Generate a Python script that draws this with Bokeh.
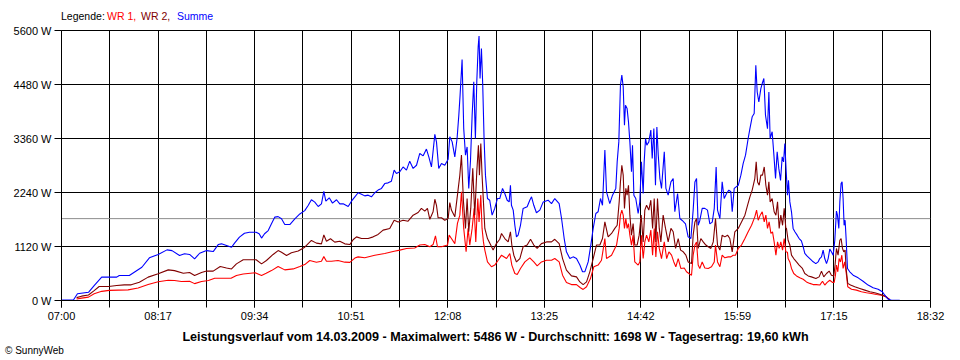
from bokeh.plotting import figure
from bokeh.layouts import column
from bokeh.models import Range1d, FixedTicker, CustomJSTickFormatter, PrintfTickFormatter, Span, Div
from bokeh.embed import file_html
from bokeh.resources import INLINE

# ---------------- data (time = minutes after 07:00, power in W) ----------------
time_labels = ["07:00", "08:17", "09:34", "10:51", "12:08", "13:25", "14:42", "15:59", "17:15", "18:32"]
x_span_min = 692            # 07:00 .. 18:32
y_ticks = [0, 1120, 2240, 3360, 4480, 5600]
average_w = 1698

legend_parts = ["Legende:", "WR 1,", "WR 2,", "Summe"]
caption = ("Leistungsverlauf vom 14.03.2009 - Maximalwert: 5486 W - Durchschnitt: 1698 W - "
           "Tagesertrag: 19,60 kWh")
credit = "\u00a9 SunnyWeb"

wr1_t = [12, 16, 21.5, 26, 32, 38, 53, 61, 69, 77, 85, 90, 95.5, 102, 106, 111.5, 117,
         122, 135, 139.3, 144.7, 154.2, 159.3, 163, 167.2, 172.5, 177.8, 184.5, 189.8, 193.7, 197.7,
         203, 207, 208.9, 211, 215, 220.2, 225.6, 229.6, 233.6, 236.2, 241.5, 249.5, 257.4, 264.9,
         269.4, 274.7, 281.3, 285.3, 289.3, 293.3, 295.9, 297.8, 299.4, 302.6, 307.4, 308.7, 310.5,
         313.2, 315.3, 317.2, 318.5, 320.3, 322.2, 323.8, 325.1, 327, 328.6, 329.9, 331.5, 332.5,
         333.9, 334.9, 336, 337.1, 339.2, 342.4, 345, 347.7, 350.4, 354.4, 357, 358.6, 361, 362.9,
         365.5, 369, 372.9, 376.1, 378.8, 382.2, 386.2, 390.2, 392.8, 396.3, 399, 402.1, 406.1,
         410.1, 413.2, 415.4, 418.1, 421.2, 423.9, 427.3, 430, 432.7, 434, 438, 442, 444.1, 445.1,
         446.2, 447.3, 448.3, 449.4, 450.4, 451.5, 452.6, 453.9, 455.2, 456.5, 459.2, 460.5, 461.8,
         463.2, 464.5, 465.9, 467.7, 469.3, 470.7, 472, 473.3, 474.6, 476, 477.8, 480, 481.9, 483.7,
         485.8, 487.6, 489.2, 491.1, 493.2, 495.9, 497.7, 499.6, 501.7, 503, 504.4, 505.7, 507,
         508.3, 510.2, 512.3, 515, 517.6, 519.8, 520.8, 522.4, 524.3, 526.1, 528.2, 530.9, 533,
         534.9, 536.7, 538.9, 541.5, 544.2, 546.8, 549.5, 552.1, 553.5, 554.8, 556.4, 558, 559.6,
         560.9, 562.2, 563.5, 564.9, 566.2, 567.5, 568.9, 570.2, 571.5, 572.8, 574.2, 575.5, 576.8,
         578.1, 578.6, 580, 581.3, 583.1, 585.3, 587.9, 590.6, 593.2, 595.9, 598.5, 601.2, 603.8,
         606, 607.8, 609.7, 611.8, 613.9, 615.3, 616.3, 617.1, 618.2, 619.2, 620.3, 621.4, 622.4,
         623.7, 625.1, 626.1, 629.1, 633, 637, 641, 645, 649, 653, 656.9, 659.6]
wr1_w = [30, 50, 70, 140, 190, 210, 220, 260, 330, 390, 420, 415, 395, 400, 350, 395, 415,
         460, 460, 520, 550, 575, 520, 565, 620, 705, 635, 655, 705, 745, 830,
         795, 815, 910, 815, 815, 830, 795, 790, 880, 905, 885, 940, 975, 1020,
         1045, 1080, 1090, 1150, 1160, 1115, 1160, 1340, 1115, 1115, 1150, 1355, 1285,
         1180, 1600, 1770, 2255, 1495, 1010, 1495, 1150, 1495, 1910, 1215, 2115, 1630,
         2185, 1495, 1215, 1045, 800, 700, 735, 835, 940, 870, 975, 735, 560, 540,
         665, 800, 885, 800, 720, 800, 835, 835, 870, 800, 525, 375, 330,
         330, 265, 230, 285, 455, 700, 735, 835, 1285, 870, 940, 1150, 1495, 1770,
         1875, 1770, 1495, 1700, 1495, 1595, 1355, 1150, 1355, 800, 735, 800, 1355,
         870, 1215, 1355, 1215, 1460, 940, 1495, 905, 1425, 1080, 870, 1215, 870, 1010,
         940, 800, 700, 870, 665, 675, 595, 560, 525, 940, 1150, 1215, 735,
         665, 800, 675, 665, 700, 800, 1150, 800, 700, 940, 885, 905, 905,
         940, 940, 1080, 1150, 1285, 1425, 1560, 1735, 1875, 1665, 1770, 1840, 1630,
         1770, 1495, 1630, 1390, 1425, 1215, 940, 1215, 1080, 1215, 1045, 1285, 1010,
         1000, 870, 800, 665, 560, 510, 470, 440, 385, 355, 330, 330, 320,
         400, 320, 375, 420, 375, 375, 525, 735, 595, 870, 800, 940, 665,
         800, 525, 285, 235, 215, 180, 160, 145, 125, 110, 75, 15]

wr2_t = [12, 16, 21.5, 26, 30, 37.5, 44, 50, 55.5, 62, 69, 77, 85, 90, 97, 102, 106, 111.5, 115.5,
         120.8, 126.4, 131.4, 135.4, 139.3, 144.7, 155, 159.3, 163.2, 168.5, 172.5, 175.2, 179.2,
         183.1, 188.5, 193.7, 199, 203, 207, 208.9, 211, 214.2, 217.6, 221.6, 225.6, 229.6, 232.2,
         234.9, 238.9, 244.2, 248.2, 252.1, 256.1, 261.4, 264.9, 268.1, 272, 276, 280, 284, 286.6,
         289.3, 291.4, 293.3, 295.9, 297.3, 298.6, 299.9, 302.6, 305.2, 307.9, 309.2, 310.5, 313.2,
         315.3, 317.2, 318.5, 320.1, 321.7, 323, 324.3, 325.9, 327.5, 329.1, 330.7, 332, 332.8,
         333.9, 334.9, 336, 337.1, 339.2, 341.8, 343.7, 346.3, 349, 350.4, 353, 355.7, 357.5, 358.6,
         360.2, 362.3, 365, 367.6, 370.8, 373.5, 376.1, 378.8, 382.2, 386.2, 390.2, 392.8, 396.3,
         399, 402.1, 406.1, 410.1, 412.8, 415.4, 418.1, 420.7, 423.4, 426, 428.7, 430.8, 432.7,
         435.3, 438, 440.6, 442.5, 444.1, 445.1, 446.2, 447.3, 448.3, 449.4, 450.4, 451.5, 452.6,
         453.9, 455.2, 456.5, 458.4, 460, 461.6, 463.2, 464.5, 465.9, 467.7, 469.3, 470.7, 472,
         473.3, 474.6, 476, 477.3, 479.1, 481, 483.1, 485.3, 487.1, 489, 491.1, 493, 495.1, 497.2,
         499, 501.7, 503, 504.4, 505.7, 507, 509.1, 511, 513.1, 515, 517.1, 519, 520.8, 522.4,
         524.3, 526.1, 528.2, 530.4, 532.2, 534.1, 536.2, 538.9, 541.5, 544.2, 546.3, 548.2, 550,
         552.1, 553.2, 554.3, 555.6, 556.9, 558.2, 559.6, 560.9, 562.2, 563.3, 564.3, 565.9, 567.5,
         568.9, 570.2, 571.5, 572.8, 574.2, 575.5, 576.8, 577.3, 578.6, 580, 581.3, 583.1, 585.3,
         587.4, 590, 591.9, 594.6, 597.2, 600.7, 603.3, 605.2, 607, 609.2, 611.3, 613.1, 615, 616,
         617.1, 618.4, 619.8, 620.8, 621.9, 622.9, 624, 624.8, 626.1, 628.3, 631.7, 635.7, 639.7,
         643.7, 647.6, 651.6, 655.6, 658.2, 659.6]
wr2_w = [60, 90, 115, 205, 290, 290, 310, 325, 325, 380, 485, 555, 635, 620, 565, 580, 520, 580, 610,
         610, 705, 675, 655, 760, 845, 845, 760, 830, 955, 1035, 1000, 935,
         990, 1025, 1105, 1245, 1190, 1175, 1360, 1230, 1280, 1210, 1230, 1175, 1160, 1260,
         1320, 1285, 1285, 1320, 1370, 1460, 1495, 1665, 1630, 1665, 1645, 1770, 1825, 1910,
         1855, 1910, 1685, 1840, 2100, 1975, 1715, 1715, 1665, 1700, 2030, 1875, 1735,
         2185, 2600, 3015, 2045, 1495, 2115, 1425, 1910, 2740, 1770, 2670, 3220, 2600,
         3255, 2600, 2045, 1495, 1285, 1150, 1045, 1180, 1270, 1390, 1285, 1215, 1425, 1150,
         940, 800, 870, 1115, 1150, 1270, 1150, 1080, 1180, 1215, 1215, 1270, 1180,
         870, 630, 510, 490, 385, 330, 385, 595, 870, 1150, 1150, 1285, 1630,
         1320, 1390, 1495, 1560, 2045, 2460, 2805, 2600, 1910, 2325, 2185, 2390, 1770,
         1355, 1595, 1150, 1150, 1355, 1770, 1215, 1875, 1975, 1875, 2080, 1495, 2115,
         1215, 2115, 1495, 1215, 1770, 1495, 1215, 1495, 1425, 1080, 1285, 1045, 1010, 940,
         800, 765, 1355, 1630, 1700, 1080, 1285, 1215, 1150, 1115, 1080, 1215, 1700, 1150,
         1045, 1355, 1320, 1355, 1285, 1010, 1425, 1495, 1630, 1770, 1975, 2150, 2290,
         2530, 2875, 2460, 2390, 2600, 2600, 2770, 2390, 2185, 2460, 2045, 2115, 1840,
         1770, 2045, 1495, 1770, 1560, 1910, 1495, 1495, 1250, 1150, 940, 870, 800,
         735, 665, 560, 510, 490, 455, 490, 610, 490, 560, 610, 525, 510, 735,
         1080, 940, 1250, 1285, 1080, 1010, 1045, 665, 355, 320, 285, 250, 215,
         180, 160, 130, 95, 40, 15]

sum_t = [0, 9.5, 12.7, 21.5, 26, 32, 44, 46, 54, 64, 70, 77, 84, 88, 94, 98, 102, 106, 110, 115.5,
         120.8, 124.8, 127.4, 131.4, 135.4, 137.8, 141.7, 145.7, 149.7, 155, 157.4, 159.3, 161.7,
         164.6, 167.2, 169.9, 172.5, 175.2, 177.8, 181.8, 185.8, 189.8, 193.7, 196.4, 199, 201.7,
         204.4, 207, 208.9, 210.5, 213.2, 215.8, 219, 221.6, 224.3, 228.3, 230.9,
         233.6, 236.2, 238.9, 241.5, 244.2, 246.8, 249.5, 252.1, 254.8, 257.4, 260.1, 262.7, 264.9,
         266.7, 269.4, 272, 274.7, 277.3, 280, 282.7, 285.3, 288, 290.6, 292.5, 294.6, 297.3, 298.6,
         300.4, 302.6, 305.2, 307.9, 309.2, 311.1, 313.2, 315, 316.4, 317.4, 319, 320.3, 321.7, 323,
         324.3, 325.7, 327, 328.3, 329.6, 330.7, 331.8, 332.5, 333.3, 334.4, 335.4, 336.5, 337.6,
         339.2, 341, 342.9, 345, 347.1, 349, 351.2, 353, 354.9, 356.5, 357.5, 358.3, 359.7, 361,
         362.3, 363.6, 365.5, 367.6, 370.8, 372.9, 374.3, 376.1, 378.2, 380.9, 383.6, 387.5, 390.2,
         392.8, 396.3, 398.2, 400.3, 402.1, 404.8, 407.4, 410.1, 412.8, 414.9, 416.7, 419.4, 421.5,
         423.4, 425.5, 427.3, 429.2, 430.8, 432.7, 434, 436.6, 438.8, 441.4, 442.5, 443.8, 445.1,
         446.2, 447.3, 448.3, 449.1, 450.4, 451.5, 452.6, 453.9, 454.7, 455.8, 457.3, 459.2, 460.5,
         461.8, 463.2, 464, 465.1, 466.1, 467.7, 469.3, 470.4, 471.7, 473, 474.1, 475.2, 476.5,
         477.8, 480, 481.3, 483.1, 485.3, 487.1, 488.4, 490.6, 492.4, 494.3, 496.9, 499, 501.2, 503,
         504.4, 505.7, 507, 508.3, 510.2, 512.3, 514.4, 516.3, 518.2, 519.8, 521.3, 522.4, 524.3,
         526.1, 527.7, 529.6, 531.4, 533, 534.1, 535.7, 538.9, 541, 542.8, 544.7, 546.8, 548.2, 550,
         551.6, 552.9, 554, 555.3, 556.9, 558, 559.3, 560.6, 562.2, 563.3, 564.3, 565.9, 567.3,
         568.6, 569.9, 571.2, 572.6, 573.9, 575, 576, 577.1, 578.1, 578.9, 580, 581.3, 582.6, 584,
         585.8, 587.4, 589.2, 590.6, 591.9, 593.8, 595.9, 598, 600.7, 602.5, 603.8, 605.2, 606.5,
         607.8, 609.2, 610.5, 611.8, 613.1, 614.5, 615.8, 617.1, 617.9, 619, 619.8, 620.8, 621.6,
         622.4, 623.2, 624, 624.8, 625.9, 627.7, 630.4, 634.4, 638.3, 642.3, 646.3, 650.3, 653.7,
         655.6, 658.2, 660.9, 667.5]
sum_w = [10, 10, 140, 170, 310, 485, 485, 520, 520, 690, 885, 955, 1050, 1035, 935, 970, 955, 865, 980, 1035,
         1015, 1160, 1175, 1140, 1105, 1190, 1315, 1395, 1415, 1415, 1385, 1295, 1385,
         1450, 1590, 1730, 1740, 1695, 1575, 1575, 1695, 1795, 1865, 1970, 2090, 2040,
         1950, 2005, 2265, 2060, 2130, 2020, 2090, 2005, 2005, 1950, 2060,
         2150, 2235, 2205, 2170, 2185, 2150, 2235, 2290, 2325, 2425, 2440, 2475, 2705,
         2635, 2670, 2770, 2705, 2890, 2740, 2805, 3050, 3000, 3140, 2980, 2770, 3445, 3290,
         2740, 2840, 2805, 2930, 3395, 3290, 2980, 3360, 3845, 4260, 5000, 3565, 3015, 3185,
         2325, 2910, 3845, 4535, 3360, 4535, 5260, 5486, 4605, 5225, 4500, 3360, 2600,
         2115, 2080, 1770, 1910, 2115, 2115, 2325, 2220, 2080, 2045, 2390, 1975, 1875, 1560,
         1320, 1355, 1560, 1910, 1945, 2080, 2150, 1975, 1820, 1875, 2045, 2080, 2010,
         2115, 2010, 1700, 1285, 1010, 870, 905, 870, 735, 595, 595, 800, 1150,
         1495, 1805, 1840, 2115, 1975, 3120, 2255, 2010, 2185, 2325, 2875, 3290, 4465,
         4675, 4430, 3635, 4050, 3980, 3705, 3290, 2670, 3220, 2185, 2115, 1805, 2045,
         2875, 2220, 2875, 3360, 3220, 3290, 3535, 2945, 3565, 2390, 3600, 3015, 2530,
         2325, 3085, 2325, 2185, 2460, 2530, 1840, 2220, 1700, 1660, 1590, 1320, 1285, 1875,
         2460, 2530, 1560, 1660, 1910, 1910, 1875, 1590, 1625, 1910, 2770, 1875, 1700,
         2460, 2115, 2220, 2290, 2255, 1840, 2325, 2390, 2600, 2840, 3015, 3360, 3565, 3810,
         3880, 4880, 4325, 4120, 4395, 4500, 4605, 3845, 3565, 4325, 3360, 3500, 3015,
         2530, 3085, 2740, 2490, 2980, 2875, 3255, 2670, 2185, 2495, 2045, 1840, 1495, 1425,
         1355, 1285, 1235, 1115, 975, 920, 870, 815, 765, 800, 870, 905, 1045,
         870, 765, 870, 1065, 1010, 940, 1250, 1855, 1770, 1495, 2045, 2425, 2460,
         2115, 1560, 1665, 1285, 665, 595, 525, 470, 400, 320, 265, 235, 180,
         110, 30, 5, 5]

# ---------------- layout / style constants ----------------
FONT = "Liberation Sans"
PAGE_W = 952
FRAME_LEFT = 61
FRAME_RIGHT_BORDER = 22
FRAME_W = PAGE_W - FRAME_LEFT - FRAME_RIGHT_BORDER
TOP_H = 24
FRAME_TOP_BORDER = 6
FRAME_H = 270
FRAME_BOTTOM_BORDER = 28
BOTTOM_H = 30
LEGEND_WIDTHS = [46, 34, 36, 40]          # px slot of each legend piece
LEGEND_COLORS = ["black", "#ff0000", "#800000", "#0000ff"]

# ---- top strip: coloured legend line ----
legend_html = "".join(
    f'<span style="display:inline-block;width:{w}px;color:{c};white-space:nowrap">{t}</span>'
    for t, c, w in zip(legend_parts, LEGEND_COLORS, LEGEND_WIDTHS))
top = Div(text=legend_html, width=PAGE_W, height=TOP_H,
          styles={"font-family": FONT, "font-size": "10.5px", "line-height": "13px",
                  "padding-left": f"{FRAME_LEFT}px", "padding-top": "10px",
                  "box-sizing": "border-box", "margin": "0", "overflow": "visible"})

# ---- main chart ----
p = figure(width=PAGE_W, height=FRAME_TOP_BORDER + FRAME_H + FRAME_BOTTOM_BORDER,
           x_range=Range1d(0, x_span_min), y_range=Range1d(0, y_ticks[-1]),
           output_backend="svg", toolbar_location=None,
           min_border_left=FRAME_LEFT, min_border_right=FRAME_RIGHT_BORDER,
           min_border_top=FRAME_TOP_BORDER, min_border_bottom=FRAME_BOTTOM_BORDER)
p.background_fill_color = "white"
p.border_fill_color = "white"
p.outline_line_color = "black"

n_lab = len(time_labels) - 1
major_x = [k * x_span_min / n_lab for k in range(n_lab + 1)]
minor_x = [k * x_span_min / (2 * n_lab) for k in range(2 * n_lab + 1)]
xticker = FixedTicker(ticks=major_x, minor_ticks=minor_x)
p.xaxis.ticker = xticker
p.xgrid.ticker = xticker
p.xaxis.formatter = CustomJSTickFormatter(
    args=dict(labels=time_labels, step=x_span_min / n_lab),
    code="const i = Math.round(tick / step); return (labels[i] !== undefined) ? labels[i] : '';")

yticker = FixedTicker(ticks=y_ticks)
p.yaxis.ticker = yticker
p.ygrid.ticker = yticker
p.yaxis.formatter = PrintfTickFormatter(format="%d W")

for g in (p.xgrid, p.ygrid):
    g.grid_line_color = "black"
    g.grid_line_width = 1
    g.grid_line_alpha = 1
p.xgrid.minor_grid_line_color = "black"
p.xgrid.minor_grid_line_width = 1

for ax in (p.xaxis, p.yaxis):
    ax.axis_line_color = "black"
    ax.major_tick_line_color = "black"
    ax.major_tick_out = 7
    ax.major_tick_in = 0
    ax.major_label_text_font = FONT
    ax.major_label_text_font_size = "11px"
    ax.major_label_text_color = "black"
p.xaxis.minor_tick_line_color = "black"
p.xaxis.minor_tick_out = 7
p.xaxis.minor_tick_in = 0
p.yaxis.minor_tick_line_color = None
p.yaxis.major_label_standoff = 3
p.xaxis.major_label_standoff = 2

p.add_layout(Span(location=average_w, dimension="width", line_color="#8c8c8c",
                  line_width=1, level="underlay"))

p.line(wr1_t, wr1_w, line_color="#ff0000", line_width=1.1)
p.line(wr2_t, wr2_w, line_color="#800000", line_width=1.1)
p.line(sum_t, sum_w, line_color="#0000ff", line_width=1.1)

# ---- bottom strip: caption (centred under the plot frame) and credit ----
bottom_html = (
    f'<div style="display:block;width:{FRAME_W}px;margin-left:{FRAME_LEFT}px;text-align:center;'
    f'font-weight:bold;font-size:12.6px;line-height:13px;white-space:nowrap">{caption}</div>'
    f'<div style="display:block;text-align:left;font-size:10px;line-height:13px;padding-left:5px;'
    f'white-space:nowrap">{credit}</div>')
bottom = Div(text=bottom_html, width=PAGE_W, height=BOTTOM_H,
             styles={"font-family": FONT, "color": "black", "padding-top": "3px",
                     "box-sizing": "border-box", "margin": "0", "overflow": "visible"})

layout = column(top, p, bottom, spacing=0)
open("out.html", "w").write(file_html(layout, INLINE))
